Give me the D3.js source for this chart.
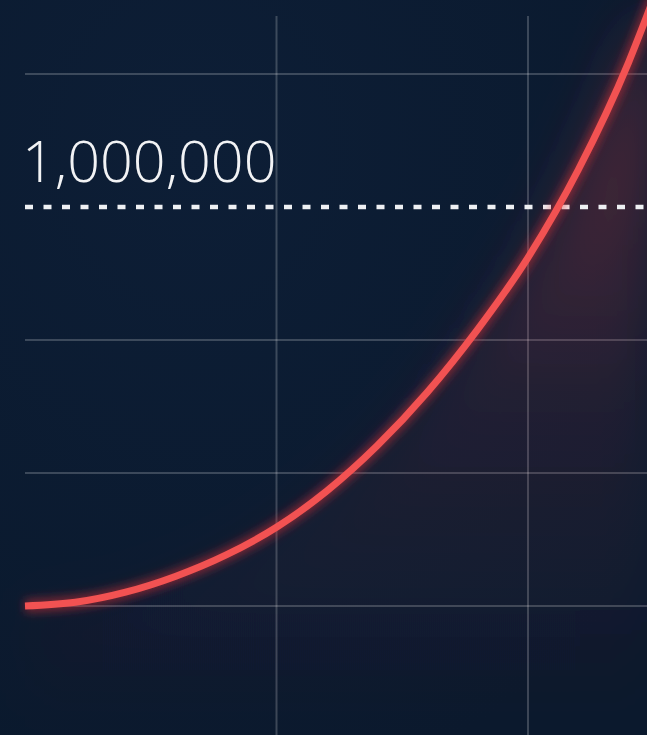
<!DOCTYPE html>
<html>
<head>
<meta charset="utf-8">
<script src="https://cdn.jsdelivr.net/npm/d3@7"></script>
<style>
  html, body { margin: 0; padding: 0; background: #0b1b31; }
  svg { display: block; }
</style>
</head>
<body>
<svg id="chart"></svg>
<script>
// years since start, and portfolio value
var years = [0, 2, 4, 6, 8, 10, 12, 14, 16, 18, 20, 22, 24, 25];
var values = [250000, 257000, 276000, 306000, 346000, 398000, 466000,
              551000, 652000, 770000, 905000, 1070000, 1272000, 1393000];
var gridValues = [250000, 500000, 750000, 1250000];
var gridYears = [10, 20];
var target = 1000000;

var width = 647,
    height = 735,
    marginLeft = 25,
    marginTop = 16;

var svg = d3.select('#chart')
    .attr('width', width)
    .attr('height', height);

var x = d3.scaleLinear().domain([0, 20]).range([marginLeft, 528]);
var y = d3.scaleLinear().domain([250000, 1000000]).range([606, 207]);

var data = years.map(function(d, i){ return {year: d, value: values[i]}; });

// background
var defs = svg.append('defs');
var bg = defs.append('radialGradient').attr('id', 'bg')
    .attr('cx', '30%').attr('cy', '20%').attr('r', '90%');
bg.append('stop').attr('offset', '0%').attr('stop-color', '#0d1e36');
bg.append('stop').attr('offset', '100%').attr('stop-color', '#0a192d');
svg.append('rect')
    .attr('width', width).attr('height', height)
    .attr('fill', 'url(#bg)');

// filters for the glow
defs.append('filter').attr('id', 'glow')
    .attr('x', '-20%').attr('y', '-20%').attr('width', '140%').attr('height', '140%')
    .append('feGaussianBlur').attr('stdDeviation', 5);
defs.append('filter').attr('id', 'haze')
    .attr('x', '-50%').attr('y', '-50%').attr('width', '200%').attr('height', '200%')
    .append('feGaussianBlur').attr('stdDeviation', 28);

var fade = defs.append('linearGradient').attr('id', 'fade')
    .attr('x1', 0).attr('y1', 0).attr('x2', 0).attr('y2', 1);
fade.append('stop').attr('offset', '0%').attr('stop-color', '#e0464f').attr('stop-opacity', 0.4);
fade.append('stop').attr('offset', '55%').attr('stop-color', '#e0464f').attr('stop-opacity', 0.1);
fade.append('stop').attr('offset', '100%').attr('stop-color', '#e0464f').attr('stop-opacity', 0);

// grid
svg.append('g').selectAll('line')
    .data(gridValues).enter()
    .append('line')
    .attr('x1', x(0)).attr('x2', width)
    .attr('y1', function(d){ return y(d); })
    .attr('y2', function(d){ return y(d); })
    .attr('stroke', '#ffffff')
    .attr('stroke-opacity', 0.2)
    .attr('stroke-width', 2);

svg.append('g').selectAll('line')
    .data(gridYears).enter()
    .append('line')
    .attr('x1', function(d){ return x(d); })
    .attr('x2', function(d){ return x(d); })
    .attr('y1', marginTop).attr('y2', height)
    .attr('stroke', '#ffffff')
    .attr('stroke-opacity', 0.2)
    .attr('stroke-width', 2);

// red haze under the curve
var area = d3.area()
    .x(function(d){ return x(d.year); })
    .y0(height)
    .y1(function(d){ return y(d.value); })
    .curve(d3.curveMonotoneX);

svg.append('path')
    .datum(data)
    .attr('d', area)
    .attr('fill', 'url(#fade)')
    .attr('filter', 'url(#haze)');

// target line + label
svg.append('line')
    .attr('x1', x(0)).attr('x2', width)
    .attr('y1', y(target)).attr('y2', y(target))
    .attr('stroke', '#eef0f3')
    .attr('stroke-width', 4.5)
    .attr('stroke-dasharray', '8,10.5');

svg.append('text')
    .attr('x', x(0) - 3)
    .attr('y', y(target) - 25)
    .text(d3.format(',')(target))
    .style('font-family', '"Open Sans", "Noto Sans", sans-serif')
    .style('font-weight', 300)
    .style('font-size', '57.5px')
    .style('fill', '#f2f3f5');

// the curve
var line = d3.line()
    .x(function(d){ return x(d.year); })
    .y(function(d){ return y(d.value); })
    .curve(d3.curveMonotoneX);

svg.append('path')
    .datum(data)
    .attr('d', line)
    .attr('fill', 'none')
    .attr('stroke', '#e8303a')
    .attr('stroke-width', 13)
    .attr('stroke-opacity', 0.5)
    .attr('filter', 'url(#glow)');

svg.append('path')
    .datum(data)
    .attr('d', line)
    .attr('fill', 'none')
    .attr('stroke', '#f25252')
    .attr('stroke-width', 7);
</script>
</body>
</html>
